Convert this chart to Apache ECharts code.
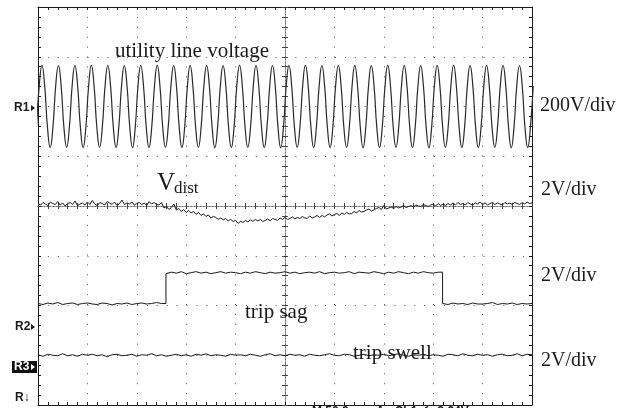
<!DOCTYPE html>
<html>
<head>
<meta charset="utf-8">
<script src="https://cdn.jsdelivr.net/npm/echarts@6/dist/echarts.min.js"></script>
<style>
  html, body { margin: 0; padding: 0; background: #fff; }
  #main { width: 636px; height: 408px; }
</style>
</head>
<body>
<div id="main"></div>
<script>
    // time axis in divisions (10 div across), 8 div vertical
    // utility line voltage, volts, 6 samples per cycle, 3 cycles per div
    var lineStart = 0.08 - 2 / 18;
    var lineStep = 1 / 18;
    var lineVolts = [-82, 82,
        165, 83, -82, -165, -83, 82,
        164, 82, -83, -164, -82, 83,
        165, 83, -82, -165, -83, 82,
        166, 82, -83, -164, -82, 83,
        165, 83, -82, -165, -83, 82,
        164, 82, -83, -166, -82, 83,
        165, 83, -82, -165, -83, 82,
        166, 82, -83, -164, -82, 83,
        164, 83, -82, -165, -83, 82,
        165, 82, -83, -164, -82, 83,
        165, 83, -82, -166, -83, 82,
        164, 82, -83, -165, -82, 83,
        166, 83, -82, -164, -83, 82,
        165, 82, -83, -165, -82, 83,
        164, 83, -82, -166, -83, 82,
        165, 82, -83, -164, -82, 83,
        166, 83, -82, -165, -83, 82,
        164, 82, -83, -165, -82, 83,
        165, 83, -82, -164, -83, 82,
        165, 82, -83, -166, -82, 83,
        164, 83, -82, -165, -83, 82,
        166, 82, -83, -164, -82, 83,
        165, 83, -82, -165, -83, 82,
        164, 82, -83, -166, -82, 83,
        165, 83, -82, -164, -83, 82,
        166, 82, -83, -165, -82, 83,
        164, 83, -82, -165, -83, 82,
        165, 82, -83, -164, -82, 83,
        165, 83, -82, -166, -83, 82,
        164, 82, -83, -165, -82, 83];

    // V_dist, volts, one sample every 0.05 div
    var distStep = 0.05;
    var distVolts = [
        0.02, -0.04, 0.06, 0.00, -0.06, 0.08, 0.02, -0.02, 0.10, -0.04,
        0.04, -0.08, 0.02, 0.06, -0.02, 0.12, -0.06, 0.00, 0.04, -0.04,
        0.08, -0.02, 0.14, 0.00, -0.06, 0.06, 0.02, -0.04, 0.10, 0.04,
        -0.02, 0.08, -0.06, 0.02, 0.16, -0.02, 0.04, 0.00, 0.08, -0.04,
        0.02, 0.06, -0.02, 0.04, -0.06, 0.10, 0.00, 0.06, -0.02, -0.04,
        0.06, -0.16, -0.10, -0.22, -0.14, 0.00, -0.24, -0.18, -0.30, -0.22,
        -0.34, -0.26, -0.36, -0.30, -0.42, -0.34, -0.46, -0.40, -0.50, -0.44,
        -0.56, -0.50, -0.54, -0.62, -0.56, -0.64, -0.58, -0.68, -0.62, -0.70,
        -0.66, -0.78, -0.70, -0.74, -0.66, -0.72, -0.64, -0.70, -0.62, -0.68,
        -0.62, -0.70, -0.66, -0.60, -0.68, -0.58, -0.62, -0.66, -0.56, -0.62,
        -0.54, -0.62, -0.58, -0.52, -0.60, -0.54, -0.58, -0.50, -0.56, -0.58,
        -0.48, -0.56, -0.52, -0.46, -0.54, -0.46, -0.52, -0.44, -0.40, -0.48,
        -0.42, -0.38, -0.46, -0.36, -0.42, -0.34, -0.40, -0.38, -0.30, -0.36,
        -0.26, -0.32, -0.30, -0.24, -0.20, -0.28, -0.24, -0.18, -0.14, -0.22,
        -0.06, -0.20, -0.16, -0.12, -0.18, -0.10, -0.16, -0.12, -0.06, -0.14,
        -0.10, -0.06, -0.12, -0.04, -0.08, -0.10, -0.02, -0.06, -0.10, -0.04,
        0.00, -0.08, 0.02, -0.06, 0.00, -0.06, 0.02, -0.04, 0.04, -0.04,
        0.06, -0.02, 0.02, -0.04, 0.06, 0.00, -0.04, 0.04, 0.00, 0.08,
        -0.02, 0.04, -0.04, 0.02, 0.06, -0.02, 0.04, 0.00, -0.04, 0.06,
        0.00, 0.04, -0.02, 0.06, 0.02, -0.02, 0.06, 0.00, 0.08, 0.02,
        0.04];

    // trip sag / trip swell, volts, one sample every 0.1 div
    var tripStep = 0.1;
    var sagEdges = [2.59, 8.19];
    var sagVolts = [
        0.02, -0.02, 0.04, 0.00, 0.06, -0.02, 0.02, 0.04, -0.02, 0.02,
        0.04, 0.00, -0.02, 0.04, 0.02, -0.04, 0.02, 0.00, 0.04, -0.02,
        0.02, 0.04, 0.00, 0.02, 0.06, 0.02, 1.22, 1.28, 1.24, 1.30,
        1.22, 1.26, 1.30, 1.24, 1.28, 1.22, 1.26, 1.30, 1.24, 1.28,
        1.26, 1.22, 1.28, 1.24, 1.30, 1.26, 1.22, 1.28, 1.24, 1.26,
        1.30, 1.24, 1.28, 1.22, 1.26, 1.28, 1.24, 1.30, 1.22, 1.26,
        1.28, 1.24, 1.26, 1.30, 1.22, 1.28, 1.26, 1.24, 1.30, 1.26,
        1.22, 1.28, 1.24, 1.30, 1.26, 1.22, 1.28, 1.24, 1.30, 1.26,
        1.24, 1.28, 0.02, -0.02, 0.04, 0.00, 0.02, -0.02, 0.04, 0.00,
        0.00, 0.02, 0.06, -0.02, 0.02, 0.00, 0.04, -0.02, 0.02, 0.00,
        0.02];
    var swellVolts = [
        0.02, -0.04, 0.04, 0.00, -0.02, 0.06, -0.02, 0.02, -0.04, 0.04,
        0.00, 0.04, -0.02, 0.02, -0.06, 0.02, 0.04, -0.02, 0.00, 0.04,
        -0.04, 0.02, 0.00, 0.06, -0.02, 0.02, -0.04, 0.00, 0.04, -0.02,
        0.02, -0.04, 0.04, 0.00, 0.06, -0.02, 0.02, 0.00, -0.04, 0.04,
        0.00, 0.02, -0.02, 0.04, 0.00, -0.04, 0.02, 0.06, -0.02, 0.02,
        -0.02, 0.04, 0.00, 0.02, -0.04, 0.04, 0.00, -0.02, 0.02, 0.06,
        0.00, -0.02, 0.04, 0.02, -0.04, 0.00, 0.04, -0.02, 0.02, 0.00,
        0.04, -0.02, 0.02, 0.06, 0.00, -0.04, 0.02, 0.00, 0.04, -0.02,
        0.02, 0.00, -0.04, 0.04, 0.02, -0.02, 0.06, 0.00, -0.02, 0.04,
        0.00, 0.02, -0.04, 0.02, 0.04, -0.02, 0.00, 0.06, -0.02, 0.04,
        0.02];

    var scaleLabels = ['200V/div', '2V/div', '2V/div', '2V/div'];
    var traceNames = ['utility line voltage', 'V', 'trip sag', 'trip swell'];

    // trace ground levels (div from bottom) and volts per div
    function trace(values, start, step, level, vdiv) {
        return values.map(function (v, i) {
            return [start + i * step, level + v / vdiv];
        });
    }
    function stepTrace(values, edges, step, level, vdiv) {
        var pts = [];
        for (var i = 0; i < values.length; i++) {
            var t = i * step;
            pts.push([t, level + values[i] / vdiv]);
            edges.forEach(function (e) {
                if (e > t && e < t + step && i + 1 < values.length) {
                    pts.push([e, level + values[i] / vdiv]);
                    pts.push([e, level + values[i + 1] / vdiv]);
                }
            });
        }
        return pts;
    }

    var ink = '#1a1a1a';
    var dots = { color: '#555', width: 1, type: [1, 8.9] };
    var serif = '"Liberation Serif", "Times New Roman", serif';
    var sans = '"Liberation Sans", Arial, sans-serif';

    function frameAxis(grid, pos, max) {
        return {
            type: 'value', gridIndex: grid, position: pos, min: 0, max: max, interval: 1,
            axisLine: { show: true, onZero: false, lineStyle: { color: ink, width: 1 } },
            axisTick: { show: true, inside: true, length: 3, lineStyle: { color: ink } },
            minorTick: { show: true, splitNumber: 5, length: 3, lineStyle: { color: ink } },
            axisLabel: { show: false },
            splitLine: { show: false }
        };
    }
    function crossAxis(pos, half, inside) {
        return {
            type: 'value', gridIndex: 1, position: pos, min: -half, max: half, interval: 1,
            axisLine: { show: true, onZero: true, lineStyle: { color: '#666', width: 1, type: [1, 2] } },
            axisTick: { show: true, inside: inside, length: 3, lineStyle: { color: '#444' } },
            minorTick: { show: true, splitNumber: 5, length: 3, lineStyle: { color: '#444' } },
            axisLabel: { show: false },
            splitLine: { show: false }
        };
    }

    var xMain = frameAxis(0, 'bottom', 10);
    xMain.splitLine = { show: true, lineStyle: dots };
    var yMain = frameAxis(0, 'left', 8);
    yMain.splitLine = { show: true, lineStyle: dots };

    function label(text, x, y, font, color) {
        return {
            type: 'text', z: 12,
            style: { text: text, x: x, y: y, font: font, fill: color || ink, textAlign: 'left', textVerticalAlign: 'middle' }
        };
    }
    function marker(x, y, color) {
        return {
            type: 'polygon', z: 12,
            shape: { points: [[x, y - 3], [x + 4, y], [x, y + 3]] },
            style: { fill: color }
        };
    }

    var myChart = echarts.init(document.getElementById('main'));
    var option = {
        animation: false,
        backgroundColor: '#fff',
        grid: [
            { left: 38, top: 7, width: 494, height: 398 },
            { left: 38, top: 7, width: 494, height: 398 }
        ],
        xAxis: [
            xMain,
            frameAxis(0, 'top', 10),
            crossAxis('bottom', 5, false),
            crossAxis('bottom', 5, true)
        ],
        yAxis: [
            yMain,
            frameAxis(0, 'right', 8),
            crossAxis('left', 4, false),
            crossAxis('left', 4, true)
        ],
        series: [
            {
                name: traceNames[0], type: 'line', smooth: true, showSymbol: false,
                lineStyle: { color: '#2a2a2a', width: 1.2 },
                data: trace(lineVolts, lineStart, lineStep, 6.0, 200)
            },
            {
                name: traceNames[1], type: 'line', showSymbol: false,
                lineStyle: { color: ink, width: 1 },
                data: trace(distVolts, 0, distStep, 4.04, 2)
            },
            {
                name: traceNames[2], type: 'line', showSymbol: false,
                lineStyle: { color: ink, width: 1 },
                data: stepTrace(sagVolts, sagEdges, tripStep, 2.03, 2)
            },
            {
                name: traceNames[3], type: 'line', showSymbol: false,
                lineStyle: { color: ink, width: 1 },
                data: trace(swellVolts, 0, tripStep, 1.0, 2)
            }
        ],
        graphic: [
            label(traceNames[0], 115, 51, '21px ' + serif),
            label(traceNames[1], 157, 183, '25px ' + serif),
            label('dist', 174, 189, '17px ' + serif),
            label(traceNames[2], 245, 312, '21px ' + serif),
            label(traceNames[3], 353, 353, '21px ' + serif),
            label(scaleLabels[0], 540, 106, '20px ' + serif),
            label(scaleLabels[1], 541, 190, '20px ' + serif),
            label(scaleLabels[2], 541, 276, '20px ' + serif),
            label(scaleLabels[3], 541, 361, '20px ' + serif),
            // reference markers on the left
            label('R1', 14, 108, 'bold 12px ' + sans),
            marker(31, 108, ink),
            label('R2', 15, 327, 'bold 12px ' + sans),
            marker(31, 327, ink),
            { type: 'rect', z: 11, shape: { x: 12, y: 361, width: 25, height: 12 }, style: { fill: '#111' } },
            label('R3', 14, 367, 'bold 12px ' + sans, '#fff'),
            marker(31, 367, '#fff'),
            label('R\u2193', 15, 398, 'bold 12px ' + sans),
            // status line, cut off by the bottom edge
            label('M 50.0ms   A   Ch1  \u222B   2.64V', 312, 412, 'bold 12px ' + sans)
        ]
    };
    myChart.setOption(option);
</script>
</body>
</html>
